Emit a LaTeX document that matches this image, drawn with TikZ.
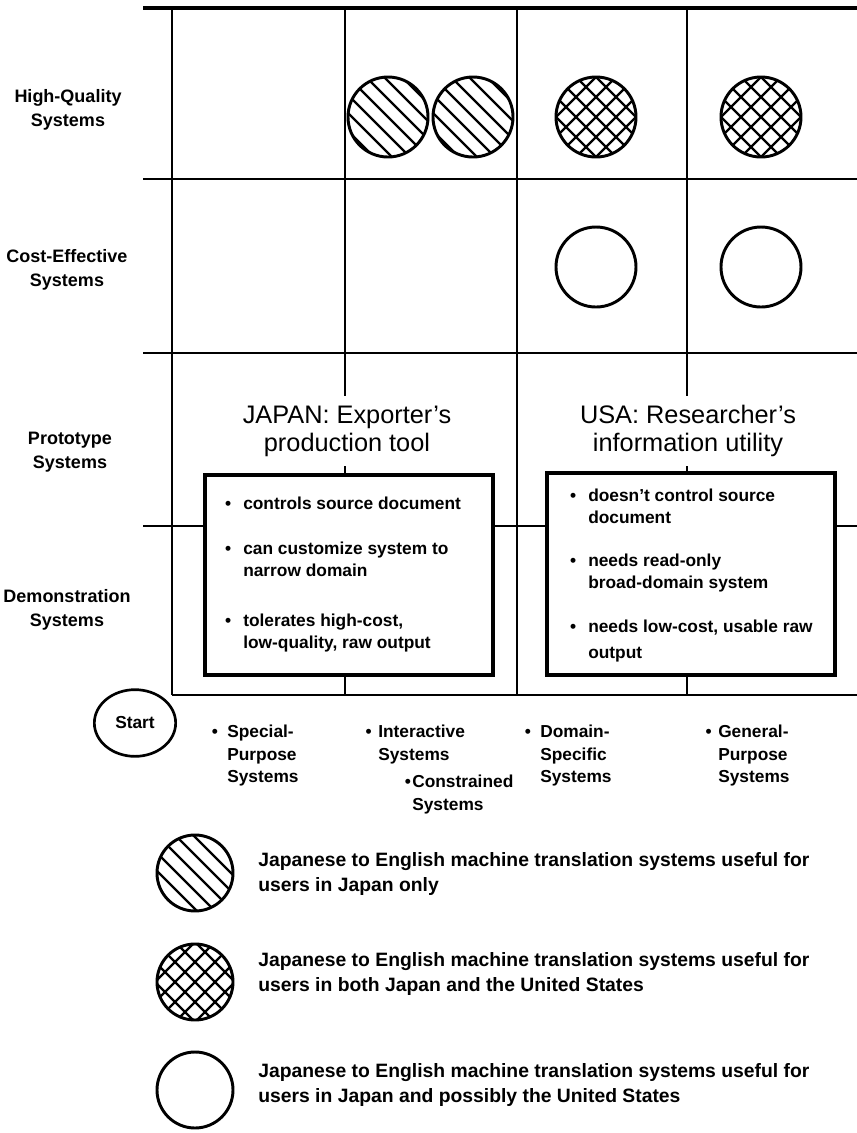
\documentclass[tikz,border=0pt]{standalone}
\usepackage{fontspec}
\setmainfont{Liberation Sans}
\usetikzlibrary{shapes.geometric}

\begin{document}
\begin{tikzpicture}[x=0.75pt, y=-0.75pt,
  gridrule/.style={line width=1.8pt},
  rowlab/.style={font=\fontsize{13.5}{18}\selectfont\bfseries, align=center},
  colitem/.style={font=\fontsize{13}{16.9}\selectfont\bfseries, align=left, anchor=north west, inner sep=0pt},
  heading/.style={font=\fontsize{19}{21}\selectfont, align=center, fill=white, inner xsep=2pt, inner ysep=7pt},
  needbox/.style={draw, line width=2.4pt, fill=white, minimum width=216pt, minimum height=150pt},
  needpt/.style={font=\fontsize{13}{16.5}\selectfont\bfseries, align=left, anchor=north west, inner sep=0pt},
  mtdisc/.style={circle, draw, line width=2.2pt, fill=white, minimum size=60pt, inner sep=0pt},
  jponly/.style={mtdisc, path picture={
    \foreach \k in {-4,...,4}
      \draw[line width=1.7pt, shift={(path picture bounding box.center)}] (\k*9-60,-\k*9-60) -- ++(120,120);}},
  bothc/.style={mtdisc, path picture={
    \foreach \k in {-4,...,4} {
      \draw[line width=1.7pt, shift={(path picture bounding box.center)}] (\k*10-60,-\k*10-60) -- ++(120,120);
      \draw[line width=1.7pt, shift={(path picture bounding box.center)}] (\k*10-60,\k*10+60) -- ++(120,-120);}}},
  maybec/.style={mtdisc},
  keytext/.style={font=\fontsize{14.5}{18.75}\selectfont\bfseries, align=left, anchor=west, inner sep=0pt}
]
\useasboundingbox (0,0) rectangle (857,1133);

% grid
\draw[gridrule, line width=2.4pt] (143,8) -- (857,8);
\foreach \y in {179,353,526}
  \draw[gridrule] (143,\y) -- (857,\y);
\foreach \x in {172,345,517,687}
  \draw[gridrule] (\x,8) -- (\x,695);
\draw[gridrule] (172,695) -- (857,695);

% row labels
\node[rowlab] (hq)    at (68,110) {High-Quality\\Systems};
\node[rowlab] (ce)    at (67,270) {Cost-Effective\\Systems};
\node[rowlab] (proto) at (70,452) {Prototype\\Systems};
\node[rowlab] (demo)  at (67,610) {Demonstration\\Systems};

% systems in the grid
\node[jponly] (hq-int)  at (388,117) {};
\node[jponly] (hq-con)  at (473,117) {};
\node[bothc]  (hq-dom)  at (596,117) {};
\node[bothc]  (hq-gen)  at (761,117) {};
\node[maybec] (ce-dom)  at (596,267) {};
\node[maybec] (ce-gen)  at (761,267) {};

% the two needs
\node[heading] (jp-title) at (347,431) {JAPAN: Exporter's\\production tool};
\node[heading] (us-title) at (688,431) {USA: Researcher's\\information utility};

\node[needbox] (jp-box) at (349,575) {};
\node[needbox, minimum height=151.5pt] (us-box) at (691,574) {};

\node[needpt] (jp-1) at (243,497) {\llap{\textbullet\hspace{9pt}}controls source document};
\node[needpt] (jp-2) at (243,542) {\llap{\textbullet\hspace{9pt}}can customize system to\\narrow domain};
\node[needpt] (jp-3) at (243,614) {\llap{\textbullet\hspace{9pt}}tolerates high-cost,\\low-quality, raw output};

\node[needpt] (us-1) at (588,489) {\llap{\textbullet\hspace{9pt}}doesn't control source\\document};
\node[needpt] (us-2) at (588,554) {\llap{\textbullet\hspace{9pt}}needs read-only\\broad-domain system};
\node[needpt, font=\fontsize{13}{19.5}\selectfont\bfseries] (us-3) at (588,620) {\llap{\textbullet\hspace{9pt}}needs low-cost, usable raw\\output};

% axis
\node[ellipse, draw, line width=2pt, minimum width=61pt, minimum height=50pt,
      font=\fontsize{13}{16}\selectfont\bfseries] (start) at (135,723) {Start};

\node[colitem] (special) at (227,725) {\llap{\textbullet\hspace{7pt}}Special-\\Purpose\\Systems};
\node[colitem] (inter)   at (378,725) {\llap{\textbullet\hspace{5pt}}Interactive\\Systems};
\node[colitem] (constr)  at (412,775) {\llap{\textbullet\hspace{1pt}}Constrained\\Systems};
\node[colitem] (domain)  at (540,725) {\llap{\textbullet\hspace{7pt}}Domain-\\Specific\\Systems};
\node[colitem] (general) at (718,725) {\llap{\textbullet\hspace{5pt}}General-\\Purpose\\Systems};

% legend
\node[jponly, minimum size=57pt] (key-jp)    at (195,873) {};
\node[bothc,  minimum size=57pt] (key-both)  at (195,982) {};
\node[maybec, minimum size=57pt] (key-maybe) at (195,1090) {};

\node[keytext] (txt-jp)    at (258,874)  {Japanese to English machine translation systems useful for\\users in Japan only};
\node[keytext] (txt-both)  at (258,974)  {Japanese to English machine translation systems useful for\\users in both Japan and the United States};
\node[keytext] (txt-maybe) at (258,1085) {Japanese to English machine translation systems useful for\\users in Japan and possibly the United States};
\end{tikzpicture}
\end{document}
